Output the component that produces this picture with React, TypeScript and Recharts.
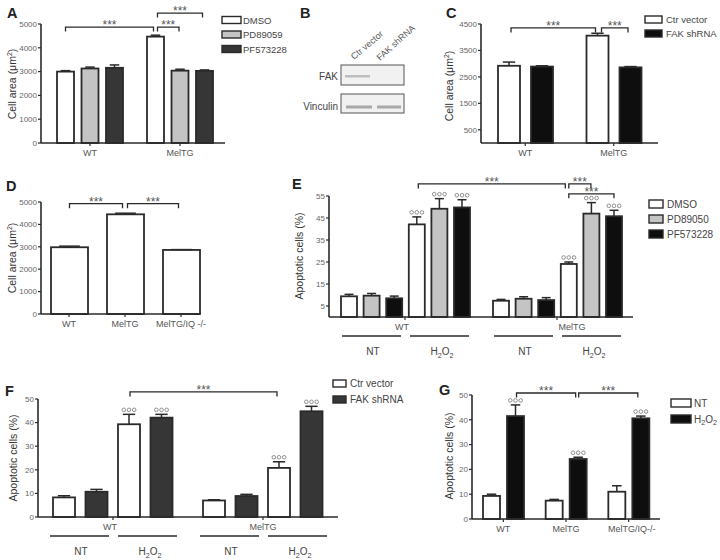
import React from 'react';
import { BarChart, Bar, XAxis, YAxis } from 'recharts';

const FONT = '"Liberation Sans", Arial, Helvetica, sans-serif';
const INK = '#2a2a2a';
const TICK = '#666';
const WHITE = '#ffffff';
const GRAY = '#c4c4c4';
const DARK = '#363636';
const BLACK = '#0e0e0e';

// ---------- Panel A ----------
const aCats = ['WT', 'MelTG'];
const aDmso = [3000, 4470];
const aDmsoErr = [40, 60];
const aPd = [3130, 3040];
const aPdErr = [60, 60];
const aPf = [3160, 3030];
const aPfErr = [120, 40];
const aTicks = [0, 1000, 2000, 3000, 4000, 5000];

// ---------- Panel C ----------
const cCats = ['WT', 'MelTG'];
const cCtr = [2920, 4060];
const cCtrErr = [140, 90];
const cFak = [2890, 2860];
const cFakErr = [30, 30];
const cTicks = [500, 1500, 2500, 3500, 4500];

// ---------- Panel D ----------
const dCats = ['WT', 'MelTG', 'MelTG/IQ -/-'];
const dArea = [2980, 4450, 2860];
const dErr = [50, 50, 15];
const dTicks = [0, 1000, 2000, 3000, 4000, 5000];

// ---------- Panel E ----------
const eCats = ['WT', 'MelTG'];
const eNtDmso = [9.4, 7.4];
const eNtDmsoErr = [0.9, 0.6];
const eNtPd = [9.7, 8.3];
const eNtPdErr = [1.0, 0.9];
const eNtPf = [8.5, 7.7];
const eNtPfErr = [1.0, 1.1];
const eH2o2Dmso = [42.1, 24.1];
const eH2o2DmsoErr = [3.4, 0.9];
const eH2o2Pd = [49.2, 47.0];
const eH2o2PdErr = [4.6, 5.0];
const eH2o2Pf = [49.8, 45.8];
const eH2o2PfErr = [3.5, 2.7];
const eH2o2Sig = [true, true];
const eTicks = [5, 15, 25, 35, 45, 55];

// ---------- Panel F ----------
const fCats = ['WT', 'MelTG'];
const fNtCtr = [8.3, 7.0];
const fNtCtrErr = [0.7, 0.3];
const fNtFak = [10.7, 8.9];
const fNtFakErr = [1.0, 0.7];
const fH2o2Ctr = [39.3, 20.8];
const fH2o2CtrErr = [4.2, 2.6];
const fH2o2Fak = [42.1, 44.8];
const fH2o2FakErr = [1.4, 2.1];
const fH2o2Sig = [true, true];
const fTicks = [0, 10, 20, 30, 40, 50];

// ---------- Panel G ----------
const gCats = ['WT', 'MelTG', 'MelTG/IQ-/-'];
const gNt = [9.3, 7.4, 11.0];
const gNtErr = [0.7, 0.5, 2.4];
const gH2o2 = [41.5, 24.2, 40.6];
const gH2o2Err = [4.5, 0.7, 0.9];
const gH2o2Sig = [true, true, true];
const gTicks = [0, 10, 20, 30, 40, 50];

type Series = { name: string; values: number[]; errors: number[]; sig?: boolean[]; fill: string };
type Bracket = { from: [number, number]; to: [number, number]; at: number; inset: [number, number] };
type Cfg = {
  left: number; top: number; width: number; height: number;
  plotLeft: number; plotTop: number; plotRight: number; plotBottom: number;
  categories: string[]; series: Series[];
  barSize: number; barGap: number; padL?: number; padR?: number;
  domain: [number, number]; ticks: number[];
  brackets: Bracket[];
  labelShift?: number[];
  subLabels?: boolean;
};

const PANEL_A: Cfg = {
  left: 0, top: 0, width: 230, height: 160,
  plotLeft: 41, plotTop: 24, plotRight: 225, plotBottom: 143,
  categories: aCats,
  series: [
    { name: 'DMSO', values: aDmso, errors: aDmsoErr, fill: WHITE },
    { name: 'PD89059', values: aPd, errors: aPdErr, fill: GRAY },
    { name: 'PF573228', values: aPf, errors: aPfErr, fill: DARK },
  ],
  barSize: 17, barGap: 7.5, padL: 4,
  domain: [0, 5000], ticks: aTicks,
  brackets: [
    { from: [0, 0], to: [1, 0], at: 4870, inset: [0, 2] },
    { from: [1, 0], to: [1, 1], at: 4870, inset: [2, 1] },
    { from: [1, 0], to: [1, 2], at: 5460, inset: [2, 2] },
  ],
};

const PANEL_C: Cfg = {
  left: 440, top: 0, width: 222, height: 160,
  plotLeft: 481, plotTop: 24, plotRight: 658, plotBottom: 143,
  categories: cCats,
  series: [
    { name: 'Ctr vector', values: cCtr, errors: cCtrErr, fill: WHITE },
    { name: 'FAK shRNA', values: cFak, errors: cFakErr, fill: BLACK },
  ],
  barSize: 22, barGap: 11,
  domain: [0, 4500], ticks: cTicks,
  brackets: [
    { from: [0, 0], to: [1, 0], at: 4350, inset: [2, 2] },
    { from: [1, 0], to: [1, 1], at: 4350, inset: [4, 2.5] },
  ],
};

const PANEL_D: Cfg = {
  left: 0, top: 180, width: 210, height: 150,
  plotLeft: 41, plotTop: 202, plotRight: 200, plotBottom: 314,
  categories: dCats,
  series: [{ name: 'Cell area', values: dArea, errors: dErr, fill: WHITE }],
  barSize: 37, barGap: 0, padR: -9,
  domain: [0, 5000], ticks: dTicks,
  brackets: [
    { from: [0, 0], to: [1, 0], at: 4925, inset: [0, 3] },
    { from: [1, 0], to: [2, 0], at: 4925, inset: [2, 3] },
  ],
};

const PANEL_E: Cfg = {
  left: 290, top: 170, width: 350, height: 195,
  plotLeft: 329, plotTop: 196, plotRight: 633, plotBottom: 317,
  categories: eCats,
  series: [
    { name: 'DMSO', values: eNtDmso, errors: eNtDmsoErr, fill: WHITE },
    { name: 'PD89050', values: eNtPd, errors: eNtPdErr, fill: GRAY },
    { name: 'PF573228', values: eNtPf, errors: eNtPfErr, fill: BLACK },
    { name: 'DMSO', values: eH2o2Dmso, errors: eH2o2DmsoErr, sig: eH2o2Sig, fill: WHITE },
    { name: 'PD89050', values: eH2o2Pd, errors: eH2o2PdErr, sig: eH2o2Sig, fill: GRAY },
    { name: 'PF573228', values: eH2o2Pf, errors: eH2o2PfErr, sig: eH2o2Sig, fill: BLACK },
  ],
  barSize: 16, barGap: 6.6,
  domain: [0, 55], ticks: eTicks,
  brackets: [
    { from: [0, 3], to: [1, 3], at: 60.5, inset: [1.5, 3.5] },
    { from: [1, 3], to: [1, 4], at: 60.5, inset: [0, 0.5] },
    { from: [1, 3], to: [1, 5], at: 56, inset: [0, 0] },
  ],
  labelShift: [-3, 15],
  subLabels: true,
};

const PANEL_F: Cfg = {
  left: 0, top: 370, width: 345, height: 190,
  plotLeft: 38, plotTop: 399, plotRight: 338, plotBottom: 517,
  categories: fCats,
  series: [
    { name: 'Ctr vector', values: fNtCtr, errors: fNtCtrErr, fill: WHITE },
    { name: 'FAK shRNA', values: fNtFak, errors: fNtFakErr, fill: DARK },
    { name: 'Ctr vector', values: fH2o2Ctr, errors: fH2o2CtrErr, sig: fH2o2Sig, fill: WHITE },
    { name: 'FAK shRNA', values: fH2o2Fak, errors: fH2o2FakErr, sig: fH2o2Sig, fill: DARK },
  ],
  barSize: 22, barGap: 10.5,
  domain: [0, 50], ticks: fTicks,
  brackets: [{ from: [0, 2], to: [1, 2], at: 53, inset: [1, 2] }],
  labelShift: [-3, 0],
  subLabels: true,
};

const PANEL_G: Cfg = {
  left: 430, top: 370, width: 235, height: 180,
  plotLeft: 472, plotTop: 395, plotRight: 660, plotBottom: 519,
  categories: gCats,
  series: [
    { name: 'NT', values: gNt, errors: gNtErr, fill: WHITE },
    { name: 'H2O2', values: gH2o2, errors: gH2o2Err, sig: gH2o2Sig, fill: BLACK },
  ],
  barSize: 17, barGap: 7,
  domain: [0, 50], ticks: gTicks,
  brackets: [
    { from: [0, 1], to: [1, 1], at: 50.8, inset: [1, 2.5] },
    { from: [1, 1], to: [2, 1], at: 50.8, inset: [0.5, 3] },
  ],
  labelShift: [0, 0, 3],
};

const PANELS = [PANEL_A, PANEL_C, PANEL_D, PANEL_E, PANEL_F, PANEL_G];

function H2O2({ x, y, size = 10, anchor = 'middle', fill = '#444' }: any) {
  const sub = size * 0.72;
  const d = size * 0.28;
  return (
    <text x={x} y={y} textAnchor={anchor} fontSize={size} fill={fill} fontFamily={FONT}>
      H<tspan fontSize={sub} dy={d}>2</tspan>
      <tspan dy={-d}>O</tspan>
      <tspan fontSize={sub} dy={d}>2</tspan>
    </text>
  );
}

function renderBar(p: any, cfg: Cfg, j: number, band: number, step: number) {
  const s = cfg.series[j];
  const i = typeof p.index === 'number' ? p.index : cfg.categories.indexOf(p.payload?.cat);
  const v = s.values[i];
  const e = s.errors[i];
  const { x, y, width, height } = p;
  if (!(height > 0) || !v) return <g />;
  const ppu = height / v;
  const base = y + height;
  const cx = x + width / 2;
  const top = y - e * ppu;
  const cap = width * 0.28;
  const items: React.ReactNode[] = [];
  items.push(
    <rect key="r" x={x} y={y} width={width} height={height} fill={s.fill} stroke={INK} strokeWidth={1.8} />
  );
  if (e > 0) {
    items.push(<line key="e1" x1={cx} x2={cx} y1={y} y2={top} stroke={INK} strokeWidth={1.5} />);
    items.push(<line key="e2" x1={cx - cap} x2={cx + cap} y1={top} y2={top} stroke={INK} strokeWidth={1.5} />);
  }
  if (s.sig && s.sig[i]) {
    [-5.2, 0, 5.2].forEach((dx, k) =>
      items.push(
        <circle key={'c' + k} cx={cx + dx} cy={top - 4.5} r={1.8} fill="#fff" stroke="#777" strokeWidth={0.8} />
      )
    );
  }
  cfg.brackets
    .filter((b) => b.from[0] === i && b.from[1] === j)
    .forEach((b, k) => {
      const dx = (b.to[0] - b.from[0]) * band + (b.to[1] - b.from[1]) * step;
      const x1 = cx + b.inset[0];
      const x2 = cx + dx - b.inset[1];
      const by = base - b.at * ppu;
      items.push(
        <path key={'b' + k} d={`M${x1},${by + 4.5}L${x1},${by}L${x2},${by}L${x2},${by + 4.5}`} fill="none" stroke={INK} strokeWidth={1.3} />
      );
      items.push(
        <text key={'t' + k} x={(x1 + x2) / 2} y={by + 2} textAnchor="middle" fontSize={12} fill="#555" fontFamily={FONT}>
          ***
        </text>
      );
    });
  return <g>{items}</g>;
}

function XTick(props: any) {
  const { x, y, payload, cfg } = props;
  const idx = typeof props.index === 'number' ? props.index : cfg.categories.indexOf(payload.value);
  const shift = cfg.labelShift ? cfg.labelShift[idx] || 0 : 0;
  return (
    <g>
      <text x={x + shift} y={y + 8} textAnchor="middle" fontSize={9} fill="#555" fontFamily={FONT}>
        {payload.value}
      </text>
      {cfg.subLabels && (
        <g>
          <line x1={x - 63} x2={x - 4} y1={y + 14} y2={y + 14} stroke={INK} strokeWidth={1.3} />
          <line x1={x + 5} x2={x + 64} y1={y + 14} y2={y + 14} stroke={INK} strokeWidth={1.3} />
          <text x={x - 32} y={y + 33} textAnchor="middle" fontSize={10} fill="#444" fontFamily={FONT}>NT</text>
          <H2O2 x={x + 37} y={y + 33} size={10} />
        </g>
      )}
    </g>
  );
}

function Panel({ cfg }: { cfg: Cfg }) {
  const data = cfg.categories.map((c, i) => {
    const row: Record<string, any> = { cat: c };
    cfg.series.forEach((s, j) => {
      row['s' + j] = s.values[i];
    });
    return row;
  });
  const padL = cfg.padL || 0;
  const padR = cfg.padR || 0;
  const band = (cfg.plotRight - cfg.plotLeft - padL - padR) / cfg.categories.length;
  const step = cfg.barSize + cfg.barGap;
  return (
    <div style={{ position: 'absolute', left: cfg.left, top: cfg.top }}>
      <BarChart
        width={cfg.width}
        height={cfg.height}
        data={data}
        margin={{ top: cfg.plotTop - cfg.top, right: cfg.left + cfg.width - cfg.plotRight, bottom: 0, left: 0 }}
        barGap={cfg.barGap}
      >
        <XAxis
          dataKey="cat"
          interval={0}
          height={cfg.top + cfg.height - cfg.plotBottom}
          padding={{ left: padL, right: padR }}
          axisLine={{ stroke: INK, strokeWidth: 1.6 }}
          tickLine={{ stroke: INK, strokeWidth: 1.2 }}
          tickSize={3}
          tick={(p: any) => <XTick {...p} cfg={cfg} />}
        />
        <YAxis
          type="number"
          domain={cfg.domain}
          ticks={cfg.ticks}
          interval={0}
          width={cfg.plotLeft - cfg.left}
          axisLine={{ stroke: INK, strokeWidth: 1.6 }}
          tickLine={{ stroke: INK, strokeWidth: 1.2 }}
          tickSize={3}
          tickMargin={1}
          tick={{ fontSize: 8, fill: TICK, fontFamily: FONT }}
        />
        {cfg.series.map((s, j) => (
          <Bar
            key={j}
            dataKey={'s' + j}
            barSize={cfg.barSize}
            isAnimationActive={false}
            shape={(p: any) => renderBar(p, cfg, j, band, step)}
          />
        ))}
      </BarChart>
    </div>
  );
}

function LegendBox({ x, y0, dy, boxW, boxH, gap, items, fontSize = 10 }: any) {
  return (
    <g>
      {items.map((it: any, k: number) => {
        const cy = y0 + k * dy;
        return (
          <g key={k}>
            <rect x={x} y={cy - boxH / 2} width={boxW} height={boxH} fill={it.fill} stroke={INK} strokeWidth={1.4} />
            {it.name === 'H2O2' ? (
              <H2O2 x={x + boxW + gap} y={cy + 3.5} size={fontSize} anchor="start" />
            ) : (
              <text x={x + boxW + gap} y={cy + 3.5} fontSize={fontSize} fill="#444" fontFamily={FONT}>
                {it.name}
              </text>
            )}
          </g>
        );
      })}
    </g>
  );
}

function CellAreaLabel({ x, y }: any) {
  return (
    <text transform={`translate(${x},${y}) rotate(-90)`} textAnchor="middle" fontSize={10.5} fill="#333" fontFamily={FONT}>
      Cell area (μm<tspan fontSize={7} dy={-4}>2</tspan>
      <tspan dy={4}>)</tspan>
    </text>
  );
}

function ApoLabel({ x, y }: any) {
  return (
    <text transform={`translate(${x},${y}) rotate(-90)`} textAnchor="middle" fontSize={10.5} fill="#333" fontFamily={FONT}>
      Apoptotic cells (%)
    </text>
  );
}

function Letter({ x, y, t }: any) {
  return (
    <text x={x} y={y} fontSize={14.5} fontWeight="bold" fill="#222" fontFamily={FONT}>
      {t}
    </text>
  );
}

const blotLanes = ['Ctr vector', 'FAK shRNA'];
const blotRows = ['FAK', 'Vinculin'];

function Blot() {
  return (
    <g>
      <defs>
        <filter id="blur1" x="-20%" y="-100%" width="140%" height="300%">
          <feGaussianBlur stdDeviation="0.7" />
        </filter>
      </defs>
      <text transform="translate(354,60) rotate(-40)" fontSize={9} fill="#555" fontFamily={FONT}>{blotLanes[0]}</text>
      <text transform="translate(380,61) rotate(-42)" fontSize={9} fill="#555" fontFamily={FONT}>{blotLanes[1]}</text>
      <rect x={341} y={65} width={63} height={20} fill="#f1f1f1" stroke="#555" strokeWidth={1} />
      <rect x={341} y={94} width={63} height={19} fill="#f1f1f1" stroke="#555" strokeWidth={1} />
      <rect x={345} y={75} width={25} height={2.5} fill="#bdbdbd" filter="url(#blur1)" />
      <rect x={346} y={105.5} width={26} height={3} fill="#a8a8a8" filter="url(#blur1)" />
      <rect x={377} y={105.5} width={24} height={3} fill="#a8a8a8" filter="url(#blur1)" />
      <text x={338} y={80} textAnchor="end" fontSize={10} fill="#444" fontFamily={FONT}>{blotRows[0]}</text>
      <text x={338} y={110} textAnchor="end" fontSize={10} fill="#444" fontFamily={FONT}>{blotRows[1]}</text>
    </g>
  );
}

export default function App() {
  return (
    <div style={{ position: 'absolute', left: 0, top: 0, width: 720, height: 560, background: '#fff', overflow: 'hidden', fontFamily: FONT }}>
      {PANELS.map((cfg, k) => (
        <Panel key={k} cfg={cfg} />
      ))}
      <svg width={720} height={560} style={{ position: 'absolute', left: 0, top: 0, pointerEvents: 'none' }}>
        <Letter x={7} y={18} t="A" />
        <Letter x={300} y={18} t="B" />
        <Letter x={446} y={18} t="C" />
        <Letter x={6} y={191} t="D" />
        <Letter x={292} y={189} t="E" />
        <Letter x={5} y={396} t="F" />
        <Letter x={439} y={395} t="G" />
        <CellAreaLabel x={16} y={84} />
        <CellAreaLabel x={453} y={86} />
        <CellAreaLabel x={16} y={258} />
        <ApoLabel x={303} y={256} />
        <ApoLabel x={17} y={458} />
        <ApoLabel x={453} y={456} />
        <LegendBox x={222} y0={20} dy={14.5} boxW={19} boxH={7} gap={2} items={PANEL_A.series} fontSize={9.5} />
        <LegendBox x={645} y0={19.5} dy={14} boxW={17} boxH={7} gap={4} items={PANEL_C.series} fontSize={9.5} />
        <LegendBox x={649} y0={204} dy={15} boxW={14} boxH={8} gap={4} items={PANEL_E.series.slice(0, 3)} fontSize={10} />
        <LegendBox x={333} y0={383.5} dy={16} boxW={13} boxH={7} gap={4} items={PANEL_F.series.slice(0, 2)} fontSize={10} />
        <LegendBox x={671} y0={403} dy={16} boxW={20} boxH={8} gap={3} items={PANEL_G.series} fontSize={10} />
        <Blot />
      </svg>
    </div>
  );
}
